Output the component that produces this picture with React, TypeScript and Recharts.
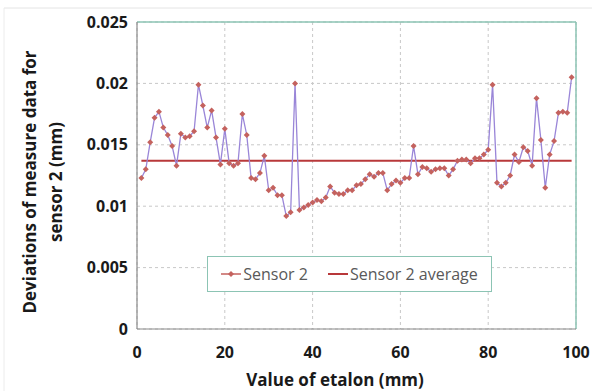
import React from 'react';
import { LineChart, Line, XAxis, YAxis, CartesianGrid, ReferenceLine } from 'recharts';

const etalon = [
  1, 2, 3, 4, 5, 6, 7, 8, 9, 10, 11, 12, 13, 14, 15, 16, 17, 18, 19, 20,
  21, 22, 23, 24, 25, 26, 27, 28, 29, 30, 31, 32, 33, 34, 35, 36, 37, 38, 39, 40,
  41, 42, 43, 44, 45, 46, 47, 48, 49, 50, 51, 52, 53, 54, 55, 56, 57, 58, 59, 60,
  61, 62, 63, 64, 65, 66, 67, 68, 69, 70, 71, 72, 73, 74, 75, 76, 77, 78, 79, 80,
  81, 82, 83, 84, 85, 86, 87, 88, 89, 90, 91, 92, 93, 94, 95, 96, 97, 98, 99,
];

const sensor2 = [
  0.0123, 0.0130, 0.0152, 0.0172, 0.0177, 0.0164, 0.0158, 0.0149, 0.0133, 0.0159,
  0.0156, 0.0157, 0.0161, 0.0199, 0.0182, 0.0164, 0.0178, 0.0156, 0.0134, 0.0163,
  0.0135, 0.0133, 0.0135, 0.0175, 0.0158, 0.0123, 0.0122, 0.0127, 0.0141, 0.0113,
  0.0115, 0.0109, 0.0109, 0.0092, 0.0095, 0.0200, 0.0097, 0.0099, 0.0101, 0.0103,
  0.0105, 0.0104, 0.0107, 0.0116, 0.0111, 0.0110, 0.0110, 0.0113, 0.0113, 0.0117,
  0.0118, 0.0122, 0.0126, 0.0124, 0.0127, 0.0127, 0.0113, 0.0118, 0.0121, 0.0119,
  0.0123, 0.0123, 0.0149, 0.0126, 0.0132, 0.0131, 0.0128, 0.0130, 0.0131, 0.0131,
  0.0125, 0.0130, 0.0137, 0.0138, 0.0138, 0.0135, 0.0139, 0.0139, 0.0142, 0.0146,
  0.0199, 0.0119, 0.0116, 0.0119, 0.0125, 0.0142, 0.0136, 0.0148, 0.0145, 0.0133,
  0.0188, 0.0154, 0.0115, 0.0142, 0.0153, 0.0176, 0.0177, 0.0176, 0.0205,
];

const sensor2Average = 0.0137;

const xTicks = [0, 20, 40, 60, 80, 100];
const yTicks = [0, 0.005, 0.01, 0.015, 0.02, 0.025];
const yTickLabels = ['0', '0.005', '0.01', '0.015', '0.02', '0.025'];

const seriesNames = ['Sensor 2', 'Sensor 2 average'];
const xTitle = 'Value of etalon (mm)';
const yTitleLines = ['Deviations of measure data for', 'sensor 2 (mm)'];

const data = etalon.map((x, i) => ({ x, s2: sensor2[i], avg: sensor2Average }));

const LINE_COLOR = '#9a86d8';
const MARK_COLOR = '#c4625e';
const AVG_COLOR = '#b8383a';
const FRAME_COLOR = '#8cc4b4';
const FONT = '"Open Sans", "Liberation Sans", sans-serif';

const Diamond = (props: any) => {
  const { cx, cy } = props;
  if (cx == null || cy == null) return null;
  const r = 3;
  return (
    <path
      d={`M${cx},${cy - r}L${cx + r},${cy}L${cx},${cy + r}L${cx - r},${cy}Z`}
      fill={MARK_COLOR}
      stroke="none"
    />
  );
};

const tickStyle = { fontFamily: FONT, fontWeight: 700, fontSize: 16, fill: '#1a1a1a' };

export default function App() {
  return (
    <div style={{ position: 'absolute', left: 0, top: 0, width: 596, height: 391, background: '#fff', overflow: 'hidden' }}>
      <LineChart width={596} height={391} data={data} margin={{ top: 22, right: 20, bottom: 32, left: 62 }}>
        <CartesianGrid stroke="#c8c8c8" strokeDasharray="3 3" vertical horizontal />
        <XAxis
          dataKey="x"
          type="number"
          domain={[0, 100]}
          ticks={xTicks}
          height={30}
          tick={tickStyle}
          tickLine={false}
          tickSize={0}
          tickMargin={18}
          axisLine={{ stroke: '#8a8a8a', strokeWidth: 1.2 }}
        />
        <YAxis
          type="number"
          domain={[0, 0.025]}
          ticks={yTicks}
          width={75}
          tick={tickStyle}
          tickFormatter={(v: number) => yTickLabels[yTicks.indexOf(v)] ?? String(v)}
          tickLine={false}
          tickSize={0}
          tickMargin={9}
          axisLine={{ stroke: '#8a8a8a', strokeWidth: 1.2 }}
        />
        <ReferenceLine y={0.025} stroke={FRAME_COLOR} strokeWidth={1.5} />
        <ReferenceLine x={100} stroke={FRAME_COLOR} strokeWidth={1.5} />
        <Line
          dataKey="avg"
          name={seriesNames[1]}
          stroke={AVG_COLOR}
          strokeWidth={2}
          dot={false}
          isAnimationActive={false}
          type="linear"
        />
        <Line
          dataKey="s2"
          name={seriesNames[0]}
          stroke={LINE_COLOR}
          strokeWidth={1.3}
          dot={<Diamond />}
          activeDot={false}
          isAnimationActive={false}
          type="linear"
        />
      </LineChart>

      <svg width={596} height={391} style={{ position: 'absolute', left: 0, top: 0, pointerEvents: 'none' }}>
        <line x1={4} y1={8} x2={592} y2={8} stroke="#e4e4e4" strokeWidth={1} />
        <line x1={4} y1={8} x2={4} y2={391} stroke="#ececec" strokeWidth={1} />
        <text x={335} y={386} textAnchor="middle" fontFamily={FONT} fontWeight={700} fontSize={17} fill="#1a1a1a">
          {xTitle}
        </text>
        <g transform="translate(0,182) rotate(-90)">
          <text x={0} y={36} textAnchor="middle" fontFamily={FONT} fontWeight={700} fontSize={17} fill="#1a1a1a">
            {yTitleLines[0]}
          </text>
          <text x={0} y={62} textAnchor="middle" fontFamily={FONT} fontWeight={700} fontSize={17} fill="#1a1a1a">
            {yTitleLines[1]}
          </text>
        </g>
      </svg>

      <div
        style={{
          position: 'absolute',
          left: 207,
          top: 256,
          width: 285,
          height: 36,
          boxSizing: 'border-box',
          border: `1.5px solid ${FRAME_COLOR}`,
          background: '#fff',
          display: 'flex',
          alignItems: 'center',
          justifyContent: 'center',
          fontFamily: FONT,
          fontSize: 16,
          color: '#595959',
          gap: 20,
        }}
      >
        <div style={{ display: 'flex', alignItems: 'center' }}>
          <svg width={20} height={12} style={{ marginRight: 2 }}>
            <line x1={0} y1={6} x2={20} y2={6} stroke={MARK_COLOR} strokeWidth={1.5} />
            <path d="M10,3L13,6L10,9L7,6Z" fill={MARK_COLOR} />
          </svg>
          <span>{seriesNames[0]}</span>
        </div>
        <div style={{ display: 'flex', alignItems: 'center' }}>
          <svg width={20} height={12} style={{ marginRight: 2 }}>
            <line x1={0} y1={6} x2={20} y2={6} stroke={AVG_COLOR} strokeWidth={2} />
          </svg>
          <span>{seriesNames[1]}</span>
        </div>
      </div>
    </div>
  );
}
